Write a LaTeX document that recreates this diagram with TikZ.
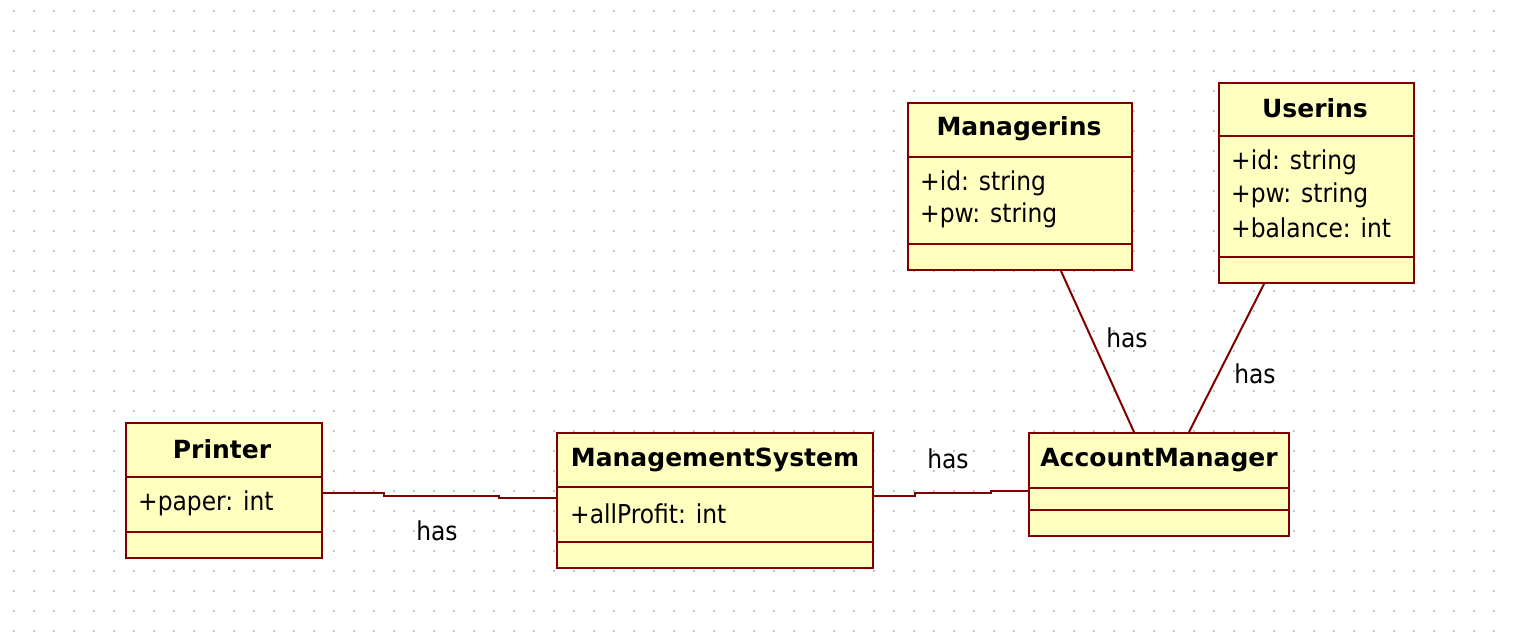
\documentclass[tikz,border=0pt]{standalone}
\usepackage{fontspec}
\setmainfont{DejaVu Sans Condensed}
\newfontfamily\titlefont{DejaVu Sans}
\usetikzlibrary{calc}
\definecolor{umlline}{HTML}{800000}
\definecolor{umlfill}{HTML}{FFFFC0}
\definecolor{griddot}{HTML}{C4C4C4}
\tikzset{
  cls/.style={draw=umlline, fill=umlfill, line width=2pt, rectangle, inner sep=0pt, anchor=north west},
  divider/.style={draw=umlline, line width=2pt},
  title/.style={font=\titlefont\fontsize{25}{25}\selectfont\bfseries, text=black, inner sep=0pt},
  attr/.style={font=\fontsize{26}{26}\selectfont, text=black, inner sep=0pt, anchor=west},
  lbl/.style={font=\fontsize{26}{26}\selectfont, text=black, inner sep=0pt},
  assoc/.style={draw=umlline, line width=2pt}
}
\begin{document}
\begin{tikzpicture}[x=1pt,y=-1pt]
\useasboundingbox (0,0) rectangle (1516,634);
\fill[white] (0,0) rectangle (1516,634);
% grid dots
\foreach \i in {0,...,74}{
  \foreach \j in {0,...,31}{
    \fill[griddot] ({14+20*\i-1},{11+20*\j-1}) rectangle ++(2,2);
  }
}
% classes
\node[cls, minimum width=196pt, minimum height=135pt] (printer) at (125,422) {};
\draw[divider] (125,477) -- (321,477);
\draw[divider] (125,532) -- (321,532);
\node[title] at (222,449) {Printer};
\node[attr] at (138,503) {+paper: int};

\node[cls, minimum width=316pt, minimum height=135pt] (ms) at (556,432) {};
\draw[divider] (556,487) -- (872,487);
\draw[divider] (556,542) -- (872,542);
\node[title] at (715,460) {ManagementSystem};
\node[attr] at (570,514) {+allProfit: int};

\node[cls, minimum width=260pt, minimum height=103pt] (am) at (1028,432) {};
\draw[divider] (1028,488) -- (1288,488);
\draw[divider] (1028,510) -- (1288,510);
\node[title] at (1159,460) {AccountManager};

\node[cls, minimum width=224pt, minimum height=167pt] (mgr) at (907,102) {};
\draw[divider] (907,157) -- (1131,157);
\draw[divider] (907,244) -- (1131,244);
\node[title] at (1019,129) {Managerins};
\node[attr] at (920,183) {+id: string};
\node[attr] at (920,215) {+pw: string};

\node[cls, minimum width=195pt, minimum height=200pt] (usr) at (1218,82) {};
\draw[divider] (1218,136) -- (1413,136);
\draw[divider] (1218,257) -- (1413,257);
\node[title] at (1315,108) {Userins};
\node[attr] at (1231,162) {+id: string};
\node[attr] at (1231,195) {+pw: string};
\node[attr] at (1231,228) {+balance: int};

% connectors
\draw[assoc] ([yshift=-2.5pt]printer.east) -- ++(61,0) -- ++(0,2.5) -- ++(115,0) -- ++(0,2.5) -- ([yshift=-7.5pt]ms.west |- printer.east);
\draw[assoc] ([yshift=-11.5pt]ms.east |- am.east) -- ++(41,0) -- ++(0,-3) -- ++(76,0) -- ++(0,-2) -- ([yshift=-6.5pt]am.west);
\draw[assoc] ([xshift=41pt]mgr.south) -- ([xshift=-25pt]am.north);
\draw[assoc] ([xshift=-52.5pt]usr.south) -- ([xshift=30pt]am.north);

% labels
\node[lbl] (l1) at (437,531) {has};
\node[lbl] (l2) at (948,459) {has};
\node[lbl] (l3) at (1127,338) {has};
\node[lbl] (l4) at (1255,374) {has};
\end{tikzpicture}
\end{document}
